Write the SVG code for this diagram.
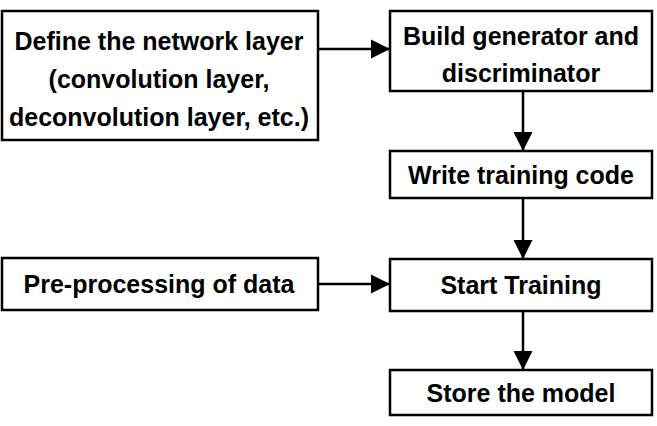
<svg xmlns="http://www.w3.org/2000/svg" width="657" height="426" viewBox="0 0 657 426">
<defs>
<style>
.box{fill:#fff;stroke:#000;stroke-width:2.5}
.lbl{font-family:"Liberation Sans",Arial,sans-serif;font-weight:bold;font-size:25px;fill:#000;text-anchor:middle}
.conn{stroke:#000;stroke-width:2.5;fill:none}
</style>
<marker id="ah" markerUnits="userSpaceOnUse" markerWidth="20" markerHeight="20" refX="19" refY="10" orient="auto" viewBox="0 0 20 20">
<path d="M0,0.5 L19,10 L0,19.5 Z" fill="#000"/>
</marker>
</defs>
<rect width="657" height="426" fill="#fff"/>
<g id="connectors">
<line class="conn" x1="318" y1="49" x2="390" y2="49" marker-end="url(#ah)"/>
<line class="conn" x1="523" y1="91" x2="523" y2="151" marker-end="url(#ah)"/>
<line class="conn" x1="523" y1="198" x2="523" y2="259" marker-end="url(#ah)"/>
<line class="conn" x1="318" y1="284" x2="390" y2="284" marker-end="url(#ah)"/>
<line class="conn" x1="523" y1="311" x2="523" y2="370" marker-end="url(#ah)"/>
</g>
<g id="define">
<rect class="box" x="2" y="11" width="316" height="129"/>
<text class="lbl" x="159" y="50">Define the network layer</text>
<text class="lbl" x="159" y="88">(convolution layer,</text>
<text class="lbl" x="159" y="126">deconvolution layer, etc.)</text>
</g>
<g id="build">
<rect class="box" x="390" y="11" width="262" height="80"/>
<text class="lbl" x="521" y="45">Build generator and</text>
<text class="lbl" x="521" y="82">discriminator</text>
</g>
<g id="write">
<rect class="box" x="390" y="151" width="262" height="47"/>
<text class="lbl" x="521" y="184">Write training code</text>
</g>
<g id="preprocess">
<rect class="box" x="2" y="258" width="316" height="52"/>
<text class="lbl" x="159" y="293">Pre-processing of data</text>
</g>
<g id="start">
<rect class="box" x="390" y="259" width="262" height="52"/>
<text class="lbl" x="521" y="294">Start Training</text>
</g>
<g id="store">
<rect class="box" x="390" y="370" width="262" height="45"/>
<text class="lbl" x="521" y="402">Store the model</text>
</g>
</svg>
